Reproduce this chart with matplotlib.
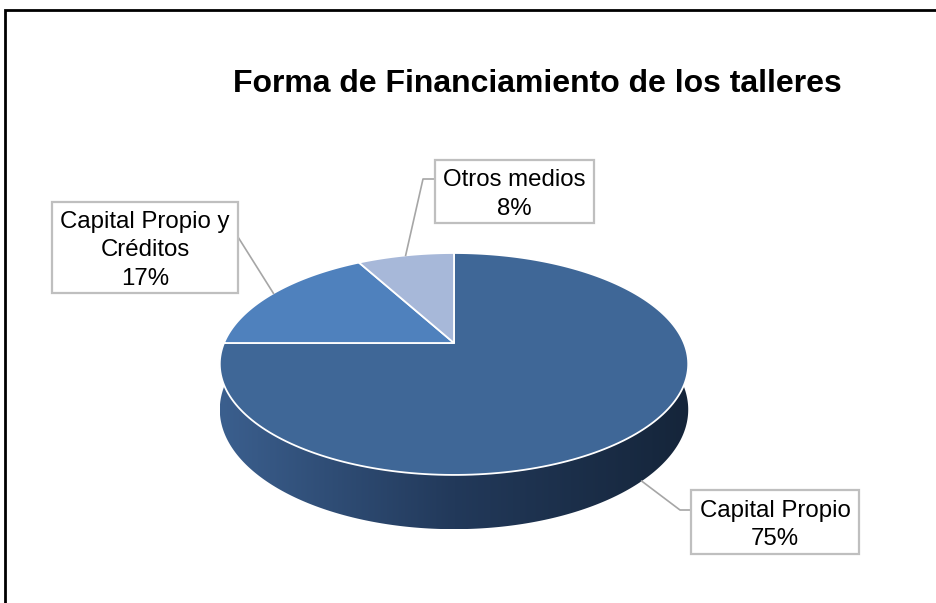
import textwrap
import numpy as np
import matplotlib.pyplot as plt
from matplotlib.patches import Polygon, Rectangle
from matplotlib.colors import LinearSegmentedColormap

# data
categories = ["Capital Propio", "Capital Propio y Créditos", "Otros medios"]
values = [75, 17, 8]
colors = ["#3F6797", "#4F81BD", "#A7B8D9"]
title = "Forma de Financiamiento de los talleres"

plt.rcParams['font.family'] = ['Liberation Sans', 'DejaVu Sans']

fig = plt.figure(figsize=(9.37, 6.03), dpi=100)
ax = fig.add_axes([0, 0, 1, 1])
ax.set_xlim(0, 937)
ax.set_ylim(603, 0)
ax.axis('off')

# chart frame (only top and left edges show)
ax.plot([5, 5, 937], [603, 10, 10], color='black', lw=2, solid_joinstyle='miter')

ax.text(537, 84, title, fontsize=23, fontweight='bold', ha='center', va='center')

# pie geometry in pixels, tilted with a bit of perspective
cx, cy = 454, 343
R, B, k = 230, 107, 0.189
depth = 44


def proj(theta, drop=0.0):
    u, v = np.cos(theta), np.sin(theta)
    w = 1 + k * v
    return cx + R * u / w, cy - B * v / w + drop / w


# front side of the pie, shaded dark from left to right
th = np.linspace(np.pi, 2 * np.pi, 300)
xt, yt = proj(th)
xb, yb = proj(th, depth)
side = Polygon(np.column_stack([np.r_[xt, xb[::-1]], np.r_[yt, yb[::-1]]]),
               closed=True, facecolor='none', edgecolor='none')
ax.add_patch(side)
shade = LinearSegmentedColormap.from_list("side", ["#3B5F8E", "#22395A", "#15253A"])
grad = np.linspace(0, 1, 256).reshape(1, -1)
img = ax.imshow(grad, cmap=shade, aspect='auto', interpolation='bilinear',
                extent=(xt.min(), xt.max(), yb.max(), yt.min()), zorder=1)
img.set_clip_path(side)
ax.set_xlim(0, 937)
ax.set_ylim(603, 0)

# top of the slices, clockwise from 12 o'clock
total = sum(values)
start = np.pi / 2
mids = []
for val, col in zip(values, colors):
    span = 2 * np.pi * val / total
    t = np.linspace(start, start - span, 200)
    x, y = proj(t)
    pts = np.column_stack([np.r_[cx, x], np.r_[cy, y]])
    ax.add_patch(Polygon(pts, closed=True, facecolor=col, edgecolor='white',
                         linewidth=1.3, joinstyle='round', zorder=2))
    mids.append(start - span / 2)
    start -= span

# label boxes: (x0, y0, x1, y1), where the leader leaves the box, elbow length
boxes = [(691, 490, 859, 554), (52, 202, 238, 293), (435, 160, 594, 223)]
attach = [(691, 510, -11), (238, 237, 0), (435, 179, -12)]

for name, val, mid, box, (ax0, ay0, el) in zip(categories, values, mids, boxes, attach):
    x0, y0, x1, y1 = box
    pct = round(val / total * 100)
    px, py = proj(mid)
    if np.sin(mid) < 0:
        px, py = proj(mid, depth)
    ax.plot([ax0, ax0 + el, px], [ay0, ay0, py], color='#A6A6A6', lw=1.2, zorder=3)
    ax.add_patch(Rectangle((x0, y0), x1 - x0, y1 - y0, facecolor='white',
                           edgecolor='#BFBFBF', lw=1.6, zorder=4))
    ax.text((x0 + x1) / 2, (y0 + y1) / 2 + 3, f"{textwrap.fill(name, 16)}\n{pct}%",
            fontsize=17.3, ha='center', va='center', linespacing=1.36, zorder=5)

fig.savefig("out.png", dpi=100)
